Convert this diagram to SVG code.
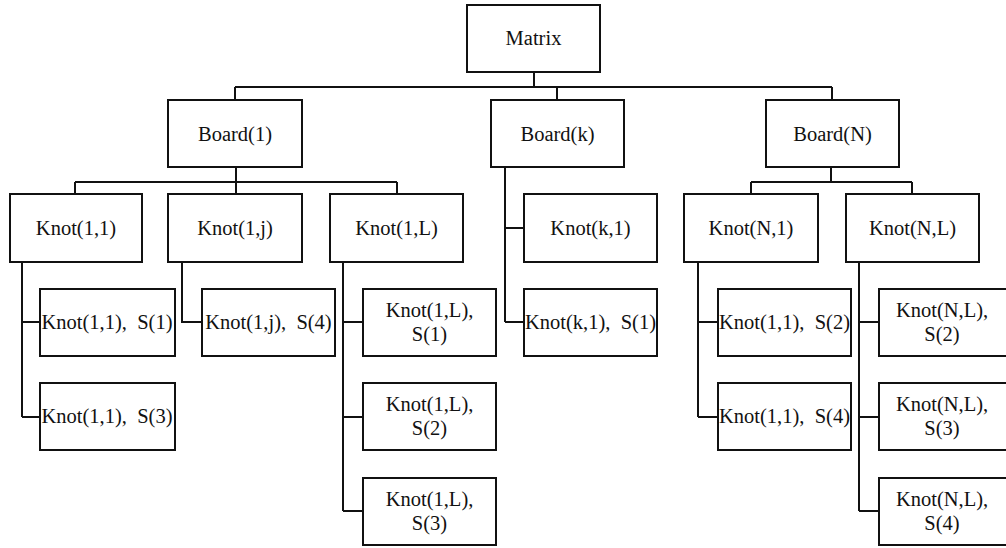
<svg xmlns="http://www.w3.org/2000/svg" width="1006" height="548" viewBox="0 0 1006 548">
<style>
.box{fill:#fff;stroke:#111;stroke-width:2}
.ln{fill:none;stroke:#111;stroke-width:2}
text{font-family:'Liberation Serif','Times New Roman',Times,'DejaVu Serif',serif;font-size:20.5px;fill:#111;text-anchor:middle;white-space:pre}
</style>
<rect width="1006" height="548" fill="#fff"/>
<g id="connectors">
<path class="ln" d="M534 72V87M235 87H832M235 87V100M557 87V100M832 87V100"/>
<path class="ln" d="M236 167V194M75 182H397M75 182V194M397 182V194"/>
<path class="ln" d="M505 167V322M505 228H524M505 322H524"/>
<path class="ln" d="M831 167V182M751 182H912M751 182V194M912 182V194"/>
<path class="ln" d="M22 262V417M22 322H40M22 417H40"/>
<path class="ln" d="M182 262V322H202"/>
<path class="ln" d="M343 262V511M343 322H363M343 417H363M343 511H363"/>
<path class="ln" d="M698 262V417M698 322H718M698 417H718"/>
<path class="ln" d="M859 262V511M859 322H879M859 417H879M859 511H879"/>
</g>
<g id="matrix"><rect class="box" x="467" y="5" width="133" height="67"/><text x="533.5" y="45">Matrix</text></g>
<g id="board1"><rect class="box" x="168" y="100" width="134" height="67"/><text x="235" y="141">Board(1)</text></g>
<g id="boardk"><rect class="box" x="491" y="100" width="133" height="67"/><text x="557.5" y="141">Board(k)</text></g>
<g id="boardN"><rect class="box" x="766" y="100" width="133" height="67"/><text x="832.5" y="141">Board(N)</text></g>
<g id="knot11"><rect class="box" x="10" y="194" width="132" height="68"/><text x="76" y="235">Knot(1,1)</text></g>
<g id="knot1j"><rect class="box" x="168" y="194" width="134" height="68"/><text x="235" y="235">Knot(1,j)</text></g>
<g id="knot1L"><rect class="box" x="330" y="194" width="133" height="68"/><text x="396.5" y="235">Knot(1,L)</text></g>
<g id="knotk1"><rect class="box" x="524" y="194" width="133" height="68"/><text x="590.5" y="235">Knot(k,1)</text></g>
<g id="knotN1"><rect class="box" x="684" y="194" width="134" height="68"/><text x="751" y="235">Knot(N,1)</text></g>
<g id="knotNL"><rect class="box" x="846" y="194" width="133" height="68"/><text x="912.5" y="235">Knot(N,L)</text></g>
<g id="k11s1"><rect class="box" x="40" y="289" width="135" height="67"/><text x="107" y="329">Knot(1,1),  S(1)</text></g>
<g id="k11s3"><rect class="box" x="40" y="383" width="135" height="67"/><text x="107" y="423">Knot(1,1),  S(3)</text></g>
<g id="k1js4"><rect class="box" x="202" y="289" width="133" height="67"/><text x="268.5" y="329">Knot(1,j),  S(4)</text></g>
<g id="k1Ls1"><rect class="box" x="363" y="289" width="133" height="67"/><text x="429.5" y="317">Knot(1,L),</text><text x="429.5" y="341">S(1)</text></g>
<g id="k1Ls2"><rect class="box" x="363" y="383" width="133" height="67"/><text x="429.5" y="411">Knot(1,L),</text><text x="429.5" y="435">S(2)</text></g>
<g id="k1Ls3"><rect class="box" x="363" y="478" width="133" height="67"/><text x="429.5" y="506">Knot(1,L),</text><text x="429.5" y="530">S(3)</text></g>
<g id="kk1s1"><rect class="box" x="524" y="289" width="133" height="67"/><text x="590.5" y="329">Knot(k,1),  S(1)</text></g>
<g id="kN1s2"><rect class="box" x="718" y="289" width="133" height="67"/><text x="784.5" y="329">Knot(1,1),  S(2)</text></g>
<g id="kN1s4"><rect class="box" x="718" y="383" width="133" height="67"/><text x="784.5" y="423">Knot(1,1),  S(4)</text></g>
<g id="kNLs2"><rect class="box" x="879" y="289" width="133" height="67"/><text x="942" y="317">Knot(N,L),</text><text x="942" y="341">S(2)</text></g>
<g id="kNLs3"><rect class="box" x="879" y="383" width="133" height="67"/><text x="942" y="411">Knot(N,L),</text><text x="942" y="435">S(3)</text></g>
<g id="kNLs4"><rect class="box" x="879" y="478" width="133" height="67"/><text x="942" y="506">Knot(N,L),</text><text x="942" y="530">S(4)</text></g>
</svg>
